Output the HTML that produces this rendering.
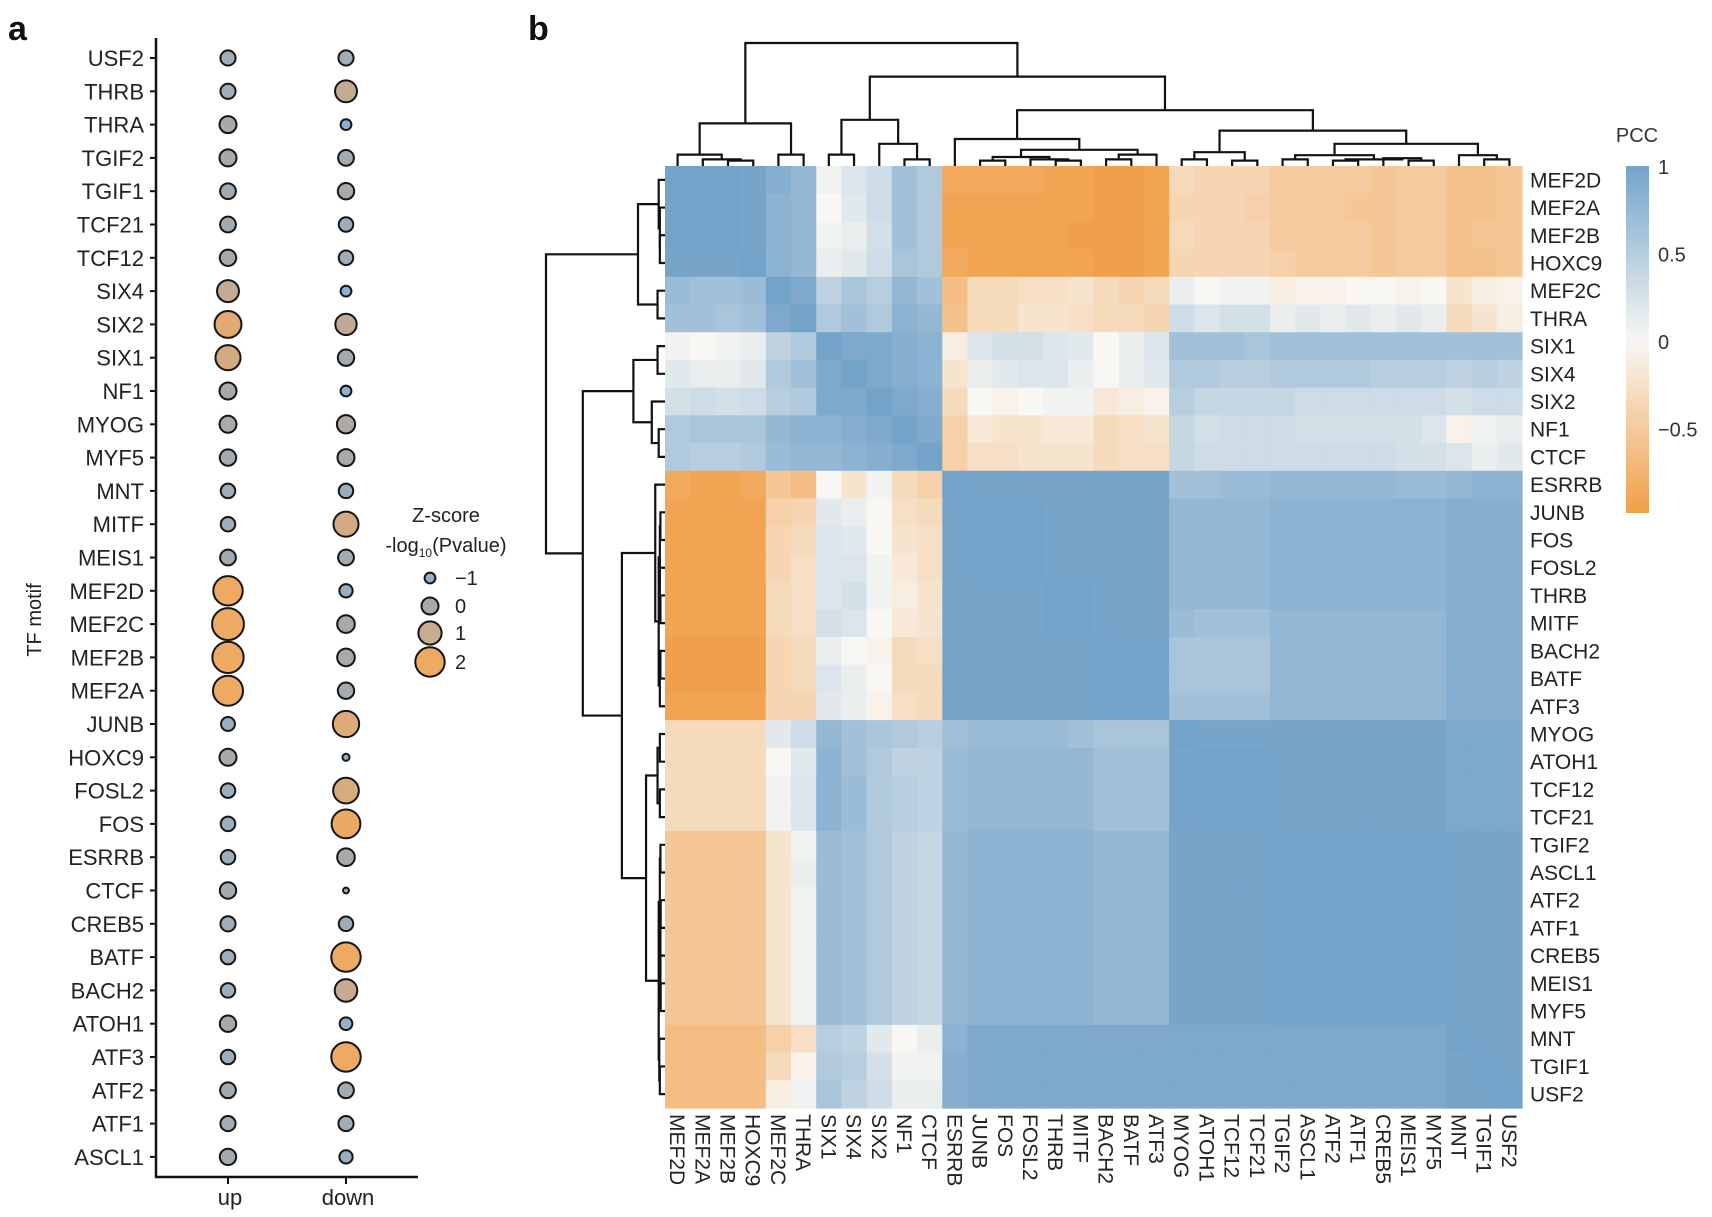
<!DOCTYPE html>
<html><head><meta charset="utf-8"><style>
html,body{margin:0;padding:0;background:#fff;}
svg{display:block;font-family:"Liberation Sans",Arial,sans-serif;}
</style></head><body>
<svg id="fig" width="1712" height="1217" viewBox="0 0 1712 1217" xmlns="http://www.w3.org/2000/svg">
<text x="8" y="40" font-size="34" font-weight="bold" fill="#111">a</text>
<text x="528" y="40" font-size="34" font-weight="bold" fill="#111">b</text>
<g id="pa"></g>
<g id="pb"></g>
</svg>
<script>
const motifs = ["USF2","THRB","THRA","TGIF2","TGIF1","TCF21","TCF12","SIX4","SIX2","SIX1","NF1","MYOG","MYF5","MNT","MITF","MEIS1","MEF2D","MEF2C","MEF2B","MEF2A","JUNB","HOXC9","FOSL2","FOS","ESRRB","CTCF","CREB5","BATF","BACH2","ATOH1","ATF3","ATF2","ATF1","ASCL1"];
const conditions = ["up","down"];
const zUp = [-0.3,-0.3,0,0,-0.2,-0.2,-0.1,0.8,1.6,1.3,0,0,-0.1,-0.4,-0.4,-0.2,2.0,2.4,2.3,2.1,-0.5,0,-0.4,-0.4,-0.4,-0.1,-0.3,-0.4,-0.4,-0.1,-0.4,-0.2,-0.3,-0.1];
const zDown = [-0.3,0.8,-1,-0.2,-0.1,-0.4,-0.4,-1,0.7,-0.1,-1,0.2,0,-0.4,1.3,-0.2,-0.6,0.1,0.1,-0.1,1.5,-1.6,1.4,1.9,0.1,-1.8,-0.4,2.0,0.9,-0.7,2.0,-0.2,-0.3,-0.6];
const legendZ = [-1,0,1,2];

const hmLabels = ["MEF2D","MEF2A","MEF2B","HOXC9","MEF2C","THRA","SIX1","SIX4","SIX2","NF1","CTCF","ESRRB","JUNB","FOS","FOSL2","THRB","MITF","BACH2","BATF","ATF3","MYOG","ATOH1","TCF12","TCF21","TGIF2","ASCL1","ATF2","ATF1","CREB5","MEIS1","MYF5","MNT","TGIF1","USF2"];
const pcc = [
[1,.95,.95,.9,.8,.7,.05,.2,.3,.6,.5,-.8,-.8,-.8,-.8,-.85,-.85,-.9,-.9,-.85,-.3,-.35,-.35,-.35,-.45,-.45,-.45,-.45,-.5,-.45,-.45,-.55,-.55,-.5],
[.95,1,.95,.9,.75,.7,0,.15,.3,.6,.5,-.85,-.85,-.85,-.85,-.85,-.85,-.9,-.9,-.85,-.35,-.35,-.35,-.4,-.45,-.45,-.45,-.5,-.5,-.45,-.45,-.55,-.55,-.5],
[.95,.95,1,.9,.75,.7,.05,.1,.25,.6,.5,-.85,-.85,-.85,-.85,-.85,-.9,-.9,-.9,-.85,-.3,-.35,-.35,-.35,-.45,-.45,-.45,-.45,-.5,-.45,-.45,-.55,-.5,-.5],
[.9,.9,.9,1,.75,.7,.1,.15,.3,.55,.5,-.8,-.85,-.85,-.85,-.85,-.85,-.9,-.9,-.85,-.35,-.35,-.35,-.35,-.4,-.45,-.45,-.45,-.5,-.45,-.45,-.55,-.55,-.5],
[.65,.6,.6,.65,1,.85,.4,.55,.45,.7,.6,-.6,-.3,-.3,-.25,-.25,-.2,-.3,-.35,-.3,.1,0,.05,.05,-.1,-.05,-.05,0,0,-.05,0,-.2,-.1,-.05],
[.6,.6,.55,.6,.85,1,.5,.6,.5,.75,.7,-.55,-.3,-.3,-.2,-.2,-.25,-.3,-.3,-.35,.3,.2,.25,.25,.1,.15,.1,.15,.1,.15,.1,-.3,-.2,-.1],
[.05,0,.05,.1,.4,.5,1,.85,.85,.8,.75,-.1,.2,.25,.25,.2,.15,0,.1,.2,.6,.6,.6,.55,.6,.6,.6,.6,.6,.6,.6,.6,.6,.6],
[.15,.1,.1,.15,.5,.6,.85,1,.85,.8,.75,-.2,.1,.15,.2,.2,.1,0,.1,.15,.5,.5,.45,.45,.5,.5,.5,.5,.45,.45,.45,.4,.45,.4],
[.25,.3,.25,.3,.45,.5,.85,.85,1,.85,.8,-.3,0,-.05,0,.05,.05,-.15,-.1,-.05,.45,.35,.35,.35,.35,.3,.3,.3,.3,.3,.3,.25,.3,.3],
[.5,.55,.55,.55,.7,.75,.75,.8,.85,1,.85,-.4,-.15,-.2,-.2,-.15,-.15,-.3,-.25,-.2,.35,.25,.3,.3,.3,.25,.25,.25,.25,.25,.2,-.05,.05,.1],
[.5,.45,.45,.5,.65,.7,.7,.75,.8,.85,1,-.4,-.25,-.25,-.2,-.2,-.2,-.3,-.25,-.25,.35,.3,.3,.3,.3,.3,.3,.3,.3,.25,.25,.2,.1,.15],
[-.8,-.85,-.85,-.8,-.5,-.6,0,-.2,.05,-.3,-.4,1,.9,.9,.9,.9,.9,.9,.9,.9,.6,.6,.65,.65,.7,.7,.7,.7,.7,.65,.65,.7,.75,.75],
[-.85,-.85,-.85,-.85,-.4,-.35,.15,.1,0,-.25,-.3,.9,1,.95,.95,.9,.9,.9,.9,.9,.7,.7,.7,.7,.75,.75,.75,.75,.75,.75,.75,.8,.8,.8],
[-.85,-.85,-.85,-.85,-.35,-.3,.2,.15,0,-.2,-.25,.9,.95,1,.95,.9,.9,.9,.9,.9,.7,.7,.7,.7,.75,.75,.75,.75,.75,.75,.75,.8,.8,.8],
[-.85,-.85,-.85,-.85,-.35,-.25,.2,.2,.05,-.15,-.25,.9,.95,.95,1,.9,.9,.9,.9,.9,.7,.7,.7,.7,.75,.75,.75,.75,.75,.75,.75,.8,.8,.8],
[-.85,-.85,-.85,-.85,-.3,-.25,.2,.25,.05,-.1,-.2,.9,.9,.9,.9,1,.95,.9,.9,.9,.7,.7,.7,.7,.75,.75,.75,.75,.75,.75,.75,.8,.8,.8],
[-.85,-.85,-.85,-.85,-.3,-.25,.25,.2,0,-.15,-.2,.9,.9,.9,.9,.95,1,.9,.9,.9,.65,.6,.6,.6,.7,.7,.7,.7,.7,.7,.7,.8,.8,.8],
[-.9,-.9,-.9,-.9,-.35,-.3,.1,0,-.05,-.3,-.25,.9,.9,.9,.9,.9,.9,1,.95,.95,.55,.55,.55,.55,.7,.7,.7,.7,.7,.7,.7,.8,.8,.8],
[-.9,-.9,-.9,-.9,-.35,-.3,.2,.1,0,-.3,-.3,.9,.9,.9,.9,.9,.9,.95,1,.95,.55,.55,.55,.55,.7,.7,.7,.7,.7,.7,.7,.8,.8,.8],
[-.85,-.85,-.85,-.85,-.35,-.35,.15,.1,-.05,-.25,-.3,.9,.9,.9,.9,.9,.9,.95,.95,1,.6,.6,.6,.6,.7,.7,.7,.7,.7,.7,.7,.8,.8,.8],
[-.3,-.3,-.3,-.3,.15,.3,.7,.6,.55,.5,.45,.6,.65,.65,.65,.65,.6,.55,.55,.55,1,.9,.9,.9,.9,.9,.9,.9,.9,.9,.9,.85,.85,.85],
[-.3,-.3,-.3,-.3,0,.15,.75,.6,.5,.4,.4,.65,.7,.7,.7,.7,.7,.6,.6,.6,.9,1,.95,.95,.9,.9,.9,.9,.9,.9,.9,.85,.85,.85],
[-.3,-.3,-.3,-.3,.05,.2,.75,.65,.5,.45,.4,.65,.7,.7,.7,.7,.7,.6,.6,.6,.9,.95,1,.95,.9,.9,.9,.9,.9,.9,.9,.85,.85,.85],
[-.3,-.3,-.3,-.3,.05,.2,.75,.65,.5,.45,.4,.65,.7,.7,.7,.7,.7,.6,.6,.6,.9,.95,.95,1,.9,.9,.9,.9,.9,.9,.9,.85,.85,.85],
[-.5,-.5,-.5,-.5,-.2,.05,.65,.6,.5,.4,.35,.7,.75,.75,.75,.75,.75,.7,.7,.7,.9,.9,.9,.9,1,.92,.92,.92,.92,.92,.92,.9,.9,.9],
[-.5,-.5,-.5,-.5,-.2,.1,.65,.6,.5,.4,.35,.7,.75,.75,.75,.75,.75,.7,.7,.7,.9,.9,.9,.9,.92,1,.92,.92,.92,.92,.92,.9,.9,.9],
[-.5,-.5,-.5,-.5,-.2,.05,.65,.6,.5,.4,.35,.7,.75,.75,.75,.75,.75,.7,.7,.7,.9,.9,.9,.9,.92,.92,1,.95,.92,.92,.92,.9,.9,.9],
[-.5,-.5,-.5,-.5,-.2,.05,.65,.6,.5,.4,.35,.7,.75,.75,.75,.75,.75,.7,.7,.7,.9,.9,.9,.9,.92,.92,.95,1,.92,.92,.92,.9,.9,.9],
[-.5,-.5,-.5,-.5,-.2,.05,.65,.6,.5,.4,.35,.7,.75,.75,.75,.75,.75,.7,.7,.7,.9,.9,.9,.9,.92,.92,.92,.92,1,.92,.92,.9,.9,.9],
[-.5,-.5,-.5,-.5,-.2,.05,.65,.6,.5,.4,.35,.7,.75,.75,.75,.75,.75,.7,.7,.7,.9,.9,.9,.9,.92,.92,.92,.92,.92,1,.95,.9,.9,.9],
[-.5,-.5,-.5,-.5,-.2,.05,.65,.6,.5,.4,.35,.7,.75,.75,.75,.75,.75,.7,.7,.7,.9,.9,.9,.9,.92,.92,.92,.92,.92,.95,1,.9,.9,.9],
[-.6,-.6,-.6,-.6,-.4,-.25,.45,.4,.15,0,.1,.75,.85,.85,.85,.85,.85,.85,.85,.85,.85,.85,.85,.85,.85,.85,.85,.85,.85,.85,.85,1,.9,.9],
[-.6,-.6,-.6,-.6,-.3,-.05,.5,.45,.25,.05,.05,.8,.85,.85,.85,.85,.85,.85,.85,.85,.85,.85,.85,.85,.85,.85,.85,.85,.85,.85,.85,.9,1,.9],
[-.6,-.6,-.6,-.6,-.1,.05,.55,.4,.3,.1,.1,.8,.85,.85,.85,.85,.85,.85,.85,.85,.85,.85,.85,.85,.85,.85,.85,.85,.85,.85,.85,.9,.9,1]
];
const colTree = [1.0,[0.33,[0.07,0,[0.03,1,[0.02,2,3]]],[0.07,4,5]],[0.72,[0.36,[0.07,6,7],[0.16,8,[0.03,9,10]]],[0.44,[0.2,11,[0.11,[0.05,[0.02,12,13],[0.03,14,[0.02,15,16]]],[0.07,[0.03,17,18],19]]],[0.27,[0.09,[0.03,20,21],[0.02,22,23]],[0.16,[0.065,[0.03,24,25],[0.03,[0.02,26,27],[0.04,28,[0.02,29,30]]]],[0.065,31,[0.03,32,33]]]]]]];
const rowTree = [1.0,[0.2,[0.02,0,[0.01,1,[0.01,2,3]]],[0.03,4,5]],[0.68,[0.24,[0.03,6,7],[0.08,8,[0.02,9,10]]],[0.34,[0.05,11,[0.02,[0.01,[0.005,12,13],[0.01,14,[0.005,15,16]]],[0.01,[0.005,17,18],19]]],[0.13,[0.03,[0.01,20,21],[0.01,22,23]],[0.02,[0.01,[0.005,24,25],[0.005,[0.003,26,27],[0.005,28,[0.003,29,30]]]],[0.015,31,[0.01,32,33]]]]]]];
const pccTicks = [1,0.5,0,-0.5];

const NS="http://www.w3.org/2000/svg";
function mk(tag,attrs,parent){const e=document.createElementNS(NS,tag);for(const k in attrs)e.setAttribute(k,attrs[k]);parent.appendChild(e);return e;}
function lerp(a,b,t){return a.map((v,i)=>Math.round(v+(b[i]-v)*t));}
function rgb(c){return `rgb(${c[0]},${c[1]},${c[2]})`;}

/* ---- panel a ---- */
const pa=document.getElementById('pa');
const AXX=156;
const yRow=i=>58+i*33.3;
const xCond=j=>[228,346][j];
const rZ=z=>Math.max(2.2,8.5+3.1*z);
function zColor(z){
  const stops=[[-1,[141,178,207]],[0,[168,169,171]],[1,[201,171,141]],[2,[238,170,98]]];
  if(z<=-1)return rgb(stops[0][1]); if(z>=2)return rgb(stops[3][1]);
  for(let k=0;k<3;k++){if(z<=stops[k+1][0]){return rgb(lerp(stops[k][1],stops[k+1][1],(z-stops[k][0])));}}
}
let ax=mk('line',{x1:AXX,y1:38,x2:AXX,y2:1178,stroke:'#111','stroke-width':2.5},pa);


let bx=mk('line',{x1:AXX-1,y1:1177,x2:418,y2:1177,stroke:'#111','stroke-width':2.5},pa);


motifs.forEach((m,i)=>{
  const y=yRow(i);
  const tk=mk('line',{x1:AXX-6,y1:y,x2:AXX,y2:y,stroke:'#111','stroke-width':2},pa);
  
  
  const t=mk('text',{x:AXX-12,y:y+8,'text-anchor':'end','font-size':22,fill:'#222'},pa);
  t.textContent=m;
  
  
  [zUp[i],zDown[i]].forEach((z,j)=>{
    const c=mk('circle',{cx:xCond(j),cy:y,r:rZ(z),fill:zColor(z),stroke:'#151515','stroke-width':2},pa);
    
    
  });
});
conditions.forEach((c,j)=>{
  const tk=mk('line',{x1:xCond(j),y1:1177,x2:xCond(j),y2:1184,stroke:'#111','stroke-width':2},pa);
  
  
  const t=mk('text',{x:xCond(j)+2,y:1205,'text-anchor':'middle','font-size':22,fill:'#222'},pa);
  t.textContent=c;
  
  
});
let yt=mk('text',{x:0,y:0,'text-anchor':'middle','font-size':20,fill:'#222',transform:'translate(41,620) rotate(-90)'},pa);
yt.textContent='TF motif';


let lt=mk('text',{x:446,y:522,'text-anchor':'middle','font-size':20,fill:'#222'},pa);
lt.textContent='Z-score';


let lt2=mk('text',{x:446,y:552,'text-anchor':'middle','font-size':20,fill:'#222'},pa);
lt2.innerHTML='-log<tspan font-size="12" dy="5">10</tspan><tspan dy="-5">(Pvalue)</tspan>';


const legY=[578,606,633,662];
legendZ.forEach((z,k)=>{
  const c=mk('circle',{cx:430,cy:legY[k],r:rZ(z),fill:zColor(z),stroke:'#151515','stroke-width':2},pa);
  
  
  const t=mk('text',{x:455,y:legY[k]+7,'font-size':20,fill:'#222'},pa);
  t.textContent=z<0?'\u2212'+Math.abs(z):String(z);
  
  
});

/* ---- panel b ---- */
const pb=document.getElementById('pb');
const HX=665,HY=166,HW=857,HH=942,N=hmLabels.length;
const cw=HW/N,ch=HH/N;
const xCol=i=>HX+cw*i, yR=i=>HY+ch*i;
function pccColor(v){
  const w=[248,247,244],b=[116,163,201],o=[240,158,70];
  v=Math.max(-1,Math.min(1,v/0.92));
  return v>=0?rgb(lerp(w,b,v)):rgb(lerp(w,o,-v));
}
pcc.forEach((row,i)=>row.forEach((v,j)=>{
  const r=mk('rect',{x:xCol(j),y:yR(i),width:cw+0.6,height:ch+0.6,fill:pccColor(v)},pb);
  
  
}));
hmLabels.forEach((l,i)=>{
  const t=mk('text',{x:1530,y:yR(i)+ch/2+7.5,'font-size':21,fill:'#222'},pb);
  t.textContent=l;
  
  
  const cx=xCol(i)+cw/2;
  const t2=mk('text',{x:0,y:0,'font-size':21,fill:'#222',transform:`translate(${cx-7.5},1114) rotate(90)`},pb);
  t2.textContent=l;
  
  
});
/* dendrograms */
function drawTree(node,orient){
  if(typeof node==='number'){return [node+0.5,0];}
  const [h,a,b]=node;
  const A=drawTree(a,orient),B=drawTree(b,orient);
  let d;
  if(orient==='top'){
    const s=120,base=HY;
    const X=p=>HX+p*cw,Y=hh=>hh===0?base:base-3-hh*s;
    d=`M${X(A[0])},${Y(A[1])}V${Y(h)}H${X(B[0])}V${Y(B[1])}`;
  }else{
    const s=115,base=HX;
    const X=hh=>hh===0?base:base-4-hh*s,Y=p=>HY+p*ch;
    d=`M${X(A[1])},${Y(A[0])}H${X(h)}V${Y(B[0])}H${X(B[1])}`;
  }
  const p=mk('path',{d:d,fill:'none',stroke:'#111','stroke-width':2.2},pb);
  
  
  return [(A[0]+B[0])/2,h];
}
drawTree(colTree,'top');
drawTree(rowTree,'left');
/* colorbar */
const CBX=1626,CBW=23,CBtop=166,CBbot=513;
const yV=v=>CBtop+(1-v)*175;
const defs=mk('defs',{},pb);
const lg=mk('linearGradient',{id:'cbg',x1:0,y1:0,x2:0,y2:1},defs);
for(let k=0;k<=20;k++){
  const v=1-(k/20)*((CBbot-CBtop)/175);
  mk('stop',{offset:(k/20),'stop-color':pccColor(v*0.92)},lg);
}
const cb=mk('rect',{x:CBX,y:CBtop,width:CBW,height:CBbot-CBtop,fill:'url(#cbg)'},pb);


const ct=mk('text',{x:1637,y:142,'text-anchor':'middle','font-size':20,fill:'#333'},pb);
ct.textContent='PCC';


pccTicks.forEach(v=>{
  const t=mk('text',{x:1658,y:yV(v)+8,'font-size':20,fill:'#333'},pb);
  t.textContent=v<0?'\u2212'+Math.abs(v):String(v);
  
  
});
</script>
</body></html>
